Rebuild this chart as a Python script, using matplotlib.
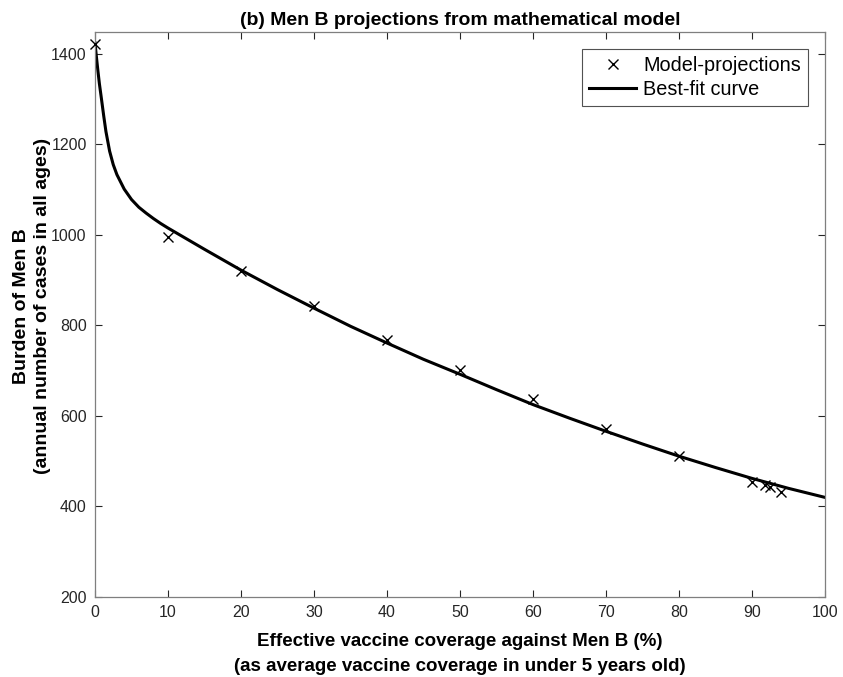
import matplotlib
matplotlib.use("Agg")
import matplotlib.pyplot as plt

plt.rcParams['font.family'] = ['Liberation Sans', 'DejaVu Sans']

# Model projections (markers)
coverage = [0, 10, 20, 30, 40, 50, 60, 70, 80, 90, 91.8, 92.4, 94]
burden = [1422, 996, 921, 842, 768, 701, 637, 572, 512, 455, 447, 443, 431]

# Best-fit curve
fit_x = [0, 0.2, 0.4, 0.6, 0.87, 1.2, 1.5, 2, 2.5, 3, 4, 5, 6, 7, 8, 9, 10,
         15, 20, 25, 30, 35, 40, 45, 50, 55, 60, 65, 70, 75, 80, 85, 90, 95, 100]
fit_y = [1424, 1392, 1362, 1334, 1302, 1262, 1228, 1185, 1155, 1133, 1101, 1078,
         1061, 1048, 1036, 1025, 1015, 968, 922, 879, 838, 798, 761, 725, 692,
         658, 625, 595, 566, 538, 511, 486, 462, 440, 420]

xticks = [0, 10, 20, 30, 40, 50, 60, 70, 80, 90, 100]
yticks = [200, 400, 600, 800, 1000, 1200, 1400]

fig = plt.figure(figsize=(8.43, 6.77), dpi=100)
ax = fig.add_axes([95/843, 1-597/677, (825-95)/843, (597-32)/677])

axcol = '#262626'
ax.plot(coverage, burden, linestyle='none', marker='x', color='black',
        markersize=7, markeredgewidth=1.0, label='Model-projections',
        clip_on=False, zorder=3)
ax.plot(fit_x, fit_y, color='black', linewidth=2.2, label='Best-fit curve',
        solid_joinstyle='round')

ax.set_xlim(0, 100)
ax.set_ylim(200, 1448)
ax.set_xticks(xticks)
ax.set_yticks(yticks)
ax.tick_params(direction='in', top=True, right=True, length=5, width=0.8,
               colors=axcol, labelsize=11.5, pad=6)
for s in ax.spines.values():
    s.set_color('#7f7f7f')
    s.set_linewidth(0.9)

ax.set_title('(b) Men B projections from mathematical model', fontsize=14,
             fontweight='bold', pad=5)
ax.set_xlabel('Effective vaccine coverage against Men B (%)\n(as average vaccine coverage in under 5 years old)',
              fontsize=13.5, fontweight='bold', labelpad=9, linespacing=1.6)
ax.set_ylabel('Burden of Men B\n(annual number of cases in all ages)',
              fontsize=14, fontweight='bold', linespacing=1.3)
ax.yaxis.set_label_coords(-0.060, 0.515)

leg = ax.legend(loc='upper right', fontsize=14.3, frameon=True, fancybox=False,
                edgecolor='#262626', borderaxespad=0.85, handlelength=2.4,
                handletextpad=0.35, borderpad=0.35, labelspacing=0.25)
leg.get_frame().set_linewidth(0.8)

fig.savefig('out.png', dpi=100)
